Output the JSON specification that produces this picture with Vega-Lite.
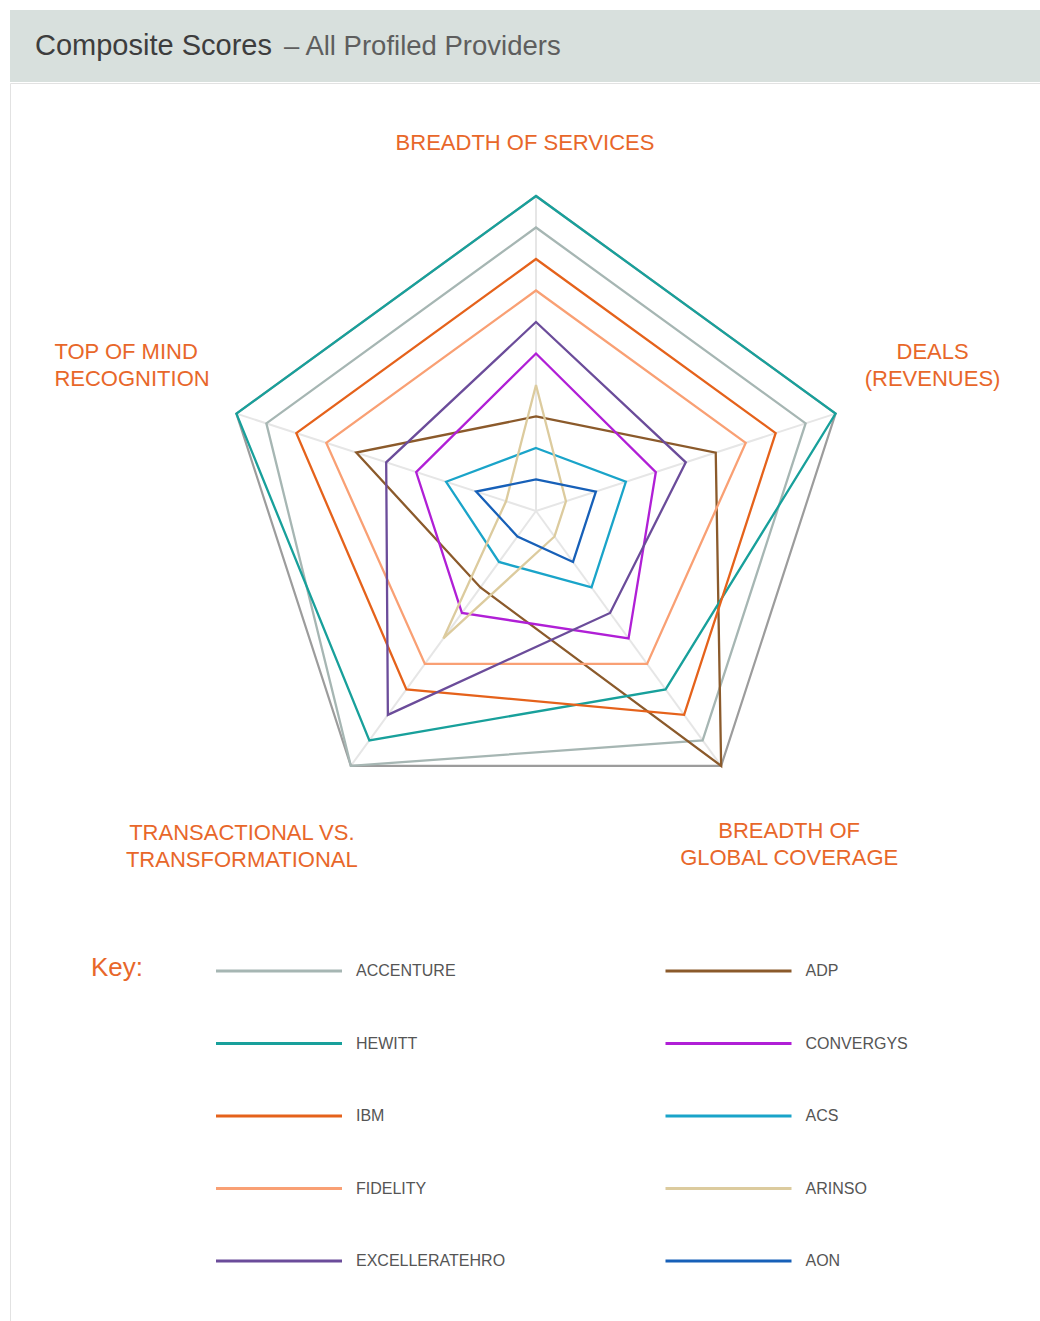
{
  "$schema": "https://vega.github.io/schema/vega-lite/v6.json",
  "background": "white",
  "padding": {"left": 9, "top": 10, "right": 0, "bottom": 0},
  "spacing": 0,
  "config": {
    "view": {"stroke": null},
    "font": "Liberation Sans",
    "concat": {"spacing": 0}
  },
  "datasets": {
    "providers": [
      {"provider": "ACCENTURE", "services": 9, "deals": 9, "global": 9, "transactional": 10, "mind": 9},
      {"provider": "ADP", "services": 3, "deals": 6, "global": 10, "transactional": 3, "mind": 6},
      {"provider": "HEWITT", "services": 10, "deals": 10, "global": 7, "transactional": 9, "mind": 10},
      {"provider": "CONVERGYS", "services": 5, "deals": 4, "global": 5, "transactional": 4, "mind": 4},
      {"provider": "IBM", "services": 8, "deals": 8, "global": 8, "transactional": 7, "mind": 8},
      {"provider": "ACS", "services": 2, "deals": 3, "global": 3, "transactional": 2, "mind": 3},
      {"provider": "FIDELITY", "services": 7, "deals": 7, "global": 6, "transactional": 6, "mind": 7},
      {"provider": "ARINSO", "services": 4, "deals": 1, "global": 1, "transactional": 5, "mind": 1},
      {"provider": "EXCELLERATEHRO", "services": 6, "deals": 5, "global": 4, "transactional": 8, "mind": 5},
      {"provider": "AON", "services": 1, "deals": 2, "global": 2, "transactional": 1, "mind": 2}
    ],
    "criteria": [
      {"key": "services", "criterion": "BREADTH OF SERVICES"},
      {"key": "deals", "criterion": "DEALS\n(REVENUES)"},
      {"key": "global", "criterion": "BREADTH OF\nGLOBAL COVERAGE"},
      {"key": "transactional", "criterion": "TRANSACTIONAL VS.\nTRANSFORMATIONAL"},
      {"key": "mind", "criterion": "TOP OF MIND\nRECOGNITION"}
    ]
  },
  "vconcat": [
    {
      "width": 1031,
      "height": 72,
      "view": {"fill": "#d8e0dd", "stroke": null},
      "data": {"values": [{"head": "Composite Scores", "tail": "– All Profiled Providers"}]},
      "layer": [
        {
          "mark": {"type": "text", "x": 25, "y": 45, "align": "left", "baseline": "alphabetic", "fontSize": 29, "color": "#3d3d3d"},
          "encoding": {"text": {"field": "head"}}
        },
        {
          "mark": {"type": "text", "x": 274, "y": 45, "align": "left", "baseline": "alphabetic", "fontSize": 27.5, "color": "#5e5e5e"},
          "encoding": {"text": {"field": "tail"}}
        }
      ]
    },
    {
      "width": 1031,
      "height": 1239,
      "view": {"stroke": "#e2e2e2"},
      "resolve": {"scale": {"x": "independent", "y": "independent"}},
      "layer": [
        {
          "encoding": {
            "x": {"field": "gx", "type": "quantitative", "axis": null, "scale": {"domain": [-16.698, 16.032], "nice": false, "zero": false}},
            "y": {"field": "gy", "type": "quantitative", "axis": null, "scale": {"domain": [-25.746, 13.587], "nice": false, "zero": false}}
          },
          "layer": [
            {
              "data": {"name": "criteria"},
              "transform": [
                {"window": [{"op": "row_number", "as": "step"}]},
                {"calculate": "(datum.step - 1) * 2 * PI / 5", "as": "angle"},
                {"calculate": "10 * sin(datum.angle)", "as": "gx"},
                {"calculate": "10 * cos(datum.angle)", "as": "gy"}
              ],
              "layer": [
                {
                  "mark": {"type": "rule", "stroke": "#e6e6e6", "strokeWidth": 2},
                  "encoding": {"x2": {"datum": 0}, "y2": {"datum": 0}}
                },
                {
                  "mark": {"type": "line", "interpolate": "linear-closed", "stroke": "#9c9c9c", "strokeWidth": 2.2},
                  "encoding": {"order": {"field": "step", "type": "quantitative"}}
                }
              ]
            },
            {
              "data": {"name": "providers"},
              "transform": [
                {"fold": ["services", "deals", "global", "transactional", "mind"], "as": ["key", "score"]},
                {"window": [{"op": "row_number", "as": "step"}], "groupby": ["provider"]},
                {"calculate": "(datum.step - 1) * 2 * PI / 5", "as": "angle"},
                {"calculate": "datum.score * sin(datum.angle)", "as": "gx"},
                {"calculate": "datum.score * cos(datum.angle)", "as": "gy"}
              ],
              "mark": {"type": "line", "interpolate": "linear-closed", "strokeWidth": 2.3},
              "encoding": {
                "order": {"field": "step", "type": "quantitative"},
                "color": {
                  "field": "provider",
                  "type": "nominal",
                  "legend": null,
                  "scale": {
                    "domain": ["ACCENTURE", "ADP", "HEWITT", "CONVERGYS", "IBM", "ACS", "FIDELITY", "ARINSO", "EXCELLERATEHRO", "AON"],
                    "range": ["#a6b6b3", "#8b5a2b", "#18a09b", "#b01fd6", "#e5621b", "#1aa4c9", "#f9a074", "#dccb9e", "#6b4c9a", "#1760b8"]
                  }
                }
              }
            },
            {
              "data": {"name": "criteria"},
              "transform": [
                {"window": [{"op": "row_number", "as": "step"}]},
                {"calculate": "(datum.step - 1) * 2 * PI / 5", "as": "angle"},
                {"calculate": "10 * sin(datum.angle)", "as": "gx"},
                {"calculate": "10 * cos(datum.angle)", "as": "gy"}
              ],
              "encoding": {"text": {"field": "criterion"}},
              "layer": [
                {
                  "transform": [{"filter": "datum.key === 'services'"}],
                  "mark": {"type": "text", "align": "center", "baseline": "middle", "dx": -11, "dy": -53, "fontSize": 22, "color": "#e8672a", "lineBreak": "\n", "lineHeight": 27.5}
                },
                {
                  "transform": [{"filter": "datum.key === 'deals'"}],
                  "mark": {"type": "text", "align": "center", "baseline": "middle", "dx": 97, "dy": -62, "fontSize": 22, "color": "#e8672a", "lineBreak": "\n", "lineHeight": 27.5}
                },
                {
                  "transform": [{"filter": "datum.key === 'global'"}],
                  "mark": {"type": "text", "align": "center", "baseline": "middle", "dx": 68, "dy": 65, "fontSize": 22, "color": "#e8672a", "lineBreak": "\n", "lineHeight": 27.5}
                },
                {
                  "transform": [{"filter": "datum.key === 'transactional'"}],
                  "mark": {"type": "text", "align": "center", "baseline": "middle", "dx": -109, "dy": 67, "fontSize": 22, "color": "#e8672a", "lineBreak": "\n", "lineHeight": 27.5}
                },
                {
                  "transform": [{"filter": "datum.key === 'mind'"}],
                  "mark": {"type": "text", "align": "left", "baseline": "middle", "dx": -182, "dy": -62, "fontSize": 22, "color": "#e8672a", "lineBreak": "\n", "lineHeight": 27.5}
                }
              ]
            }
          ]
        },
        {
          "data": {"name": "providers"},
          "transform": [
            {"window": [{"op": "row_number", "as": "rank"}]},
            {"calculate": "(datum.rank - 1) % 2", "as": "col"},
            {"calculate": "floor((datum.rank - 1) / 2)", "as": "row"}
          ],
          "encoding": {
            "x": {"field": "col", "type": "ordinal", "axis": null, "scale": {"type": "point", "range": [269, 718.5], "padding": 0}},
            "y": {"field": "row", "type": "ordinal", "axis": null, "scale": {"type": "point", "range": [888, 1178], "padding": 0}}
          },
          "layer": [
            {
              "mark": {"type": "tick", "orient": "horizontal", "size": 126, "thickness": 3, "opacity": 1},
              "encoding": {"color": {"field": "provider", "type": "nominal", "legend": null}}
            },
            {
              "mark": {"type": "text", "align": "left", "baseline": "middle", "dx": 77, "fontSize": 16, "color": "#555555"},
              "encoding": {"text": {"field": "provider"}}
            },
            {
              "transform": [{"filter": "datum.rank === 1"}],
              "mark": {"type": "text", "text": "Key:", "align": "left", "baseline": "middle", "dx": -188, "dy": -3, "fontSize": 26, "color": "#e8672a"}
            }
          ]
        }
      ]
    }
  ]
}
